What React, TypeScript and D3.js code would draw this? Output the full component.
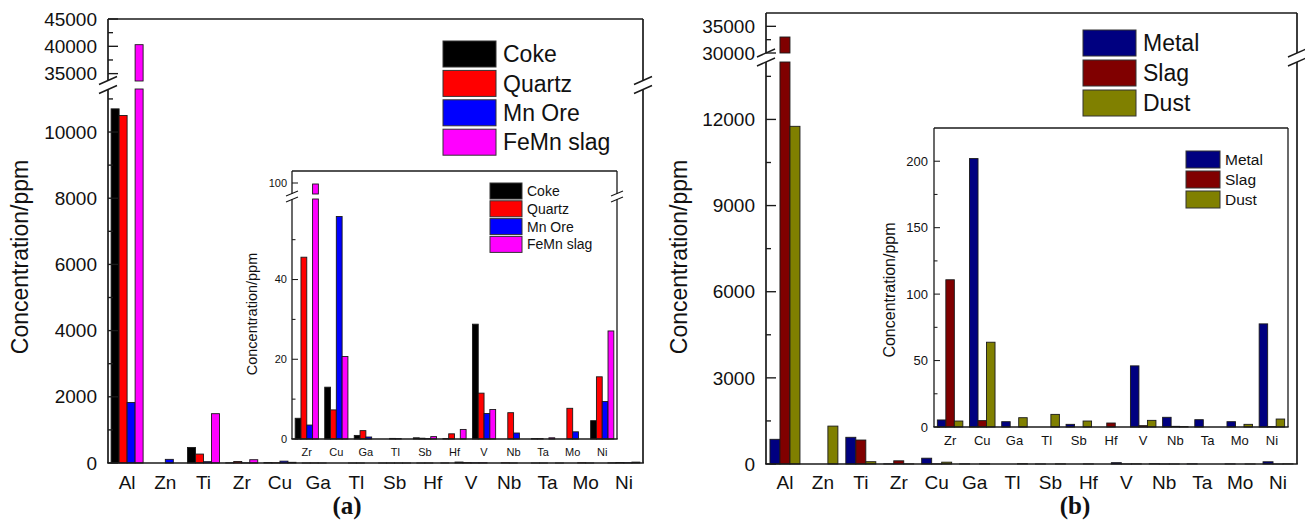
import React from 'react';
import * as d3 from 'd3';

const FONT = "'Liberation Sans', Arial, Helvetica, sans-serif";

// categories
const elements = ['Al', 'Zn', 'Ti', 'Zr', 'Cu', 'Ga', 'Tl', 'Sb', 'Hf', 'V', 'Nb', 'Ta', 'Mo', 'Ni'];
const insetElements = ['Zr', 'Cu', 'Ga', 'Tl', 'Sb', 'Hf', 'V', 'Nb', 'Ta', 'Mo', 'Ni'];

// (a) raw materials, ppm (same order as elements)
const coke = [10700, 0, 470, 5.2, 13, 0.9, 0, 0.3, 0.1, 28.8, 0, 0.1, 0, 4.6];
const quartz = [10500, 0, 270, 45.6, 7.3, 2.1, 0.15, 0.2, 1.3, 11.5, 6.6, 0.1, 7.7, 15.6];
const mnOre = [1830, 110, 40, 3.5, 55.8, 0.5, 0.1, 0.1, 0, 6.4, 1.5, 0, 1.8, 9.4];
const femnSlag = [40300, 0, 1490, 99.5, 20.7, 0, 0, 0.6, 2.4, 7.4, 0, 0.3, 0, 27.1];

// (b) products, ppm
const metal = [860, 0, 930, 5.3, 202, 4, 0, 2, 0, 46, 7.3, 5.5, 4, 77.6];
const slag = [33000, 0, 835, 110.8, 4.8, 0, 0, 0, 3, 1, 0.5, 0, 0, 0.3];
const dust = [11760, 1320, 80, 4.5, 63.8, 7, 9.5, 4.5, 0, 5, 0.3, 0, 2, 6];

// tick values
const aLowerMajor = [0, 2000, 4000, 6000, 8000, 10000];
const aLowerMinor = [1000, 3000, 5000, 7000, 9000, 11000];
const aUpperMajor = [35000, 40000, 45000];
const aUpperMinor = [37500, 42500];
const aInsetLowerMajor = [0, 20, 40];
const aInsetLowerMinor = [10, 30, 50];
const aInsetUpperMajor = [100];
const bLowerMajor = [0, 3000, 6000, 9000, 12000];
const bLowerMinor = [1500, 4500, 7500, 10500, 13500];
const bUpperMajor = [30000, 35000];
const bUpperMinor = [32500];
const bInsetMajor = [0, 50, 100, 150, 200];
const bInsetMinor = [25, 75, 125, 175];

type Series = { name: string; color: string; values: number[] };

const seriesA: Series[] = [
  { name: 'Coke', color: '#000000', values: coke },
  { name: 'Quartz', color: '#ff0000', values: quartz },
  { name: 'Mn Ore', color: '#0000ff', values: mnOre },
  { name: 'FeMn slag', color: '#ff00ff', values: femnSlag },
];
const seriesB: Series[] = [
  { name: 'Metal', color: '#000080', values: metal },
  { name: 'Slag', color: '#800000', values: slag },
  { name: 'Dust', color: '#808000', values: dust },
];
const sliceInset = (s: Series[]) => s.map((d) => ({ ...d, values: d.values.slice(3) }));

type PanelProps = {
  id: string;
  left: number; right: number; top: number; bottom: number;
  cats: string[]; series: Series[]; barW: number;
  lower: [number, number]; lowerTop: number;
  upper?: [number, number]; upperBottom?: number;
  lowerMajor: number[]; lowerMinor: number[];
  upperMajor?: number[]; upperMinor?: number[];
  tickFont: number; catFont: number; catBaseline: number;
  majorLen: number; minorLen: number; labelGap: number;
  frameW: number; breakDx: number; breakDy: number; breakSep: number;
  bg?: boolean;
  title: string; titleX: number; titleY: number; titleFont: number;
  legend: { x: number; y: number; w: number; h: number; step: number; font: number; textX: number };
};

function Panel(p: PanelProps) {
  const x = d3.scaleBand<string>().domain(p.cats).range([p.left, p.right]).padding(0);
  const gw = x.bandwidth();
  const k = p.series.length;
  const yL = d3.scaleLinear().domain(p.lower).range([p.bottom, p.lowerTop]);
  const yU = p.upper ? d3.scaleLinear().domain(p.upper).range([p.upperBottom as number, p.top]) : null;
  const stroke = '#1a1a1a';
  const bars: React.ReactNode[] = [];
  p.series.forEach((s, si) =>
    s.values.forEach((v, ci) => {
      if (!(v > 0)) return;
      const bx = (x(p.cats[ci]) as number) + (gw - k * p.barW) / 2 + si * p.barW;
      const common = { fill: s.color, stroke, strokeWidth: 0.9 };
      if (!yU || v <= p.lower[1]) {
        bars.push(<rect key={`${si}-${ci}`} x={bx} y={yL(v)} width={p.barW} height={p.bottom - yL(v)} {...common} />);
      } else {
        bars.push(<rect key={`${si}-${ci}l`} x={bx} y={p.lowerTop} width={p.barW} height={p.bottom - p.lowerTop} {...common} />);
        bars.push(<rect key={`${si}-${ci}u`} x={bx} y={yU(v)} width={p.barW} height={(p.upperBottom as number) - yU(v)} {...common} />);
      }
    })
  );
  const axisColor = '#1a1a1a';
  const yTopLower = yU ? p.lowerTop : p.top;
  const ticks: React.ReactNode[] = [];
  const addTicks = (vals: number[], sc: (v: number) => number, len: number, label: boolean, key: string) => {
    vals.forEach((v) => {
      const yy = sc(v);
      ticks.push(<line key={`${key}t${v}`} x1={p.left} x2={p.left + len} y1={yy} y2={yy} stroke={axisColor} strokeWidth={p.frameW * 0.8} />);
      if (label)
        ticks.push(
          <text key={`${key}l${v}`} x={p.left - p.labelGap} y={yy} dy="0.35em" textAnchor="end" fontSize={p.tickFont} fontFamily={FONT} fill="#111">
            {v}
          </text>
        );
    });
  };
  addTicks(p.lowerMajor, yL, p.majorLen, true, 'lM');
  addTicks(p.lowerMinor, yL, p.minorLen, false, 'lm');
  if (yU) {
    addTicks(p.upperMajor || [], yU, p.majorLen, true, 'uM');
    addTicks(p.upperMinor || [], yU, p.minorLen, false, 'um');
  }
  const breaks: React.ReactNode[] = [];
  if (yU) {
    const yc = (p.lowerTop + (p.upperBottom as number)) / 2;
    [p.left, p.right].forEach((ax) => {
      [-1, 1].forEach((sgn) => {
        const cy = yc + (sgn * p.breakSep) / 2;
        breaks.push(
          <line key={`b${ax}${sgn}`} x1={ax - p.breakDx} y1={cy + p.breakDy} x2={ax + p.breakDx} y2={cy - p.breakDy} stroke={axisColor} strokeWidth={p.frameW * 0.85} />
        );
      });
    });
  }
  const lg = p.legend;
  return (
    <g>
      {p.bg && <rect x={p.left} y={p.top} width={p.right - p.left} height={p.bottom - p.top} fill="#fff" />}
      {bars}
      {/* frame */}
      <line x1={p.left} x2={p.right} y1={p.top} y2={p.top} stroke={axisColor} strokeWidth={p.frameW} />
      <line x1={p.left - p.frameW / 2} x2={p.right + p.frameW / 2} y1={p.bottom} y2={p.bottom} stroke={axisColor} strokeWidth={p.frameW} />
      {[p.left, p.right].map((ax) => (
        <g key={`ax${ax}`}>
          <line x1={ax} x2={ax} y1={p.bottom} y2={yTopLower} stroke={axisColor} strokeWidth={p.frameW} />
          {yU && <line x1={ax} x2={ax} y1={p.upperBottom} y2={p.top} stroke={axisColor} strokeWidth={p.frameW} />}
        </g>
      ))}
      {ticks}
      {breaks}
      {p.cats.map((c) => (
        <text key={`c${c}`} x={(x(c) as number) + gw / 2} y={p.catBaseline} textAnchor="middle" fontSize={p.catFont} fontFamily={FONT} fill="#111">
          {c}
        </text>
      ))}
      <text transform={`translate(${p.titleX},${p.titleY}) rotate(-90)`} textAnchor="middle" fontSize={p.titleFont} fontFamily={FONT} fill="#111">
        {p.title}
      </text>
      {p.series.map((s, i) => (
        <g key={`lg${s.name}`}>
          <rect x={lg.x} y={lg.y + i * lg.step} width={lg.w} height={lg.h} fill={s.color} stroke="#333" strokeWidth={1} />
          <text x={lg.textX} y={lg.y + i * lg.step + lg.h / 2} dy="0.36em" fontSize={lg.font} fontFamily={FONT} fill="#111">
            {s.name}
          </text>
        </g>
      ))}
    </g>
  );
}

export default function App() {
  const mainCommon = {
    tickFont: 19, catFont: 19, catBaseline: 489, majorLen: 10, minorLen: 5, labelGap: 11,
    frameW: 1.7, breakDx: 9, breakDy: 4, breakSep: 9, title: 'Concentration/ppm', titleFont: 23,
  };
  const insetCommon = { majorLen: 6, minorLen: 3.5, frameW: 1.3, breakDx: 6, breakDy: 2.5, breakSep: 6, bg: true, title: 'Concentration/ppm' };
  return (
    <svg width={1305} height={522} style={{ display: 'block', position: 'absolute', left: 0, top: 0, background: '#fff' }}>
      {/* (a) main */}
      <Panel
        id="a"
        left={108} right={643} top={19} bottom={463}
        cats={elements} series={seriesA} barW={8}
        lower={[0, 11300]} lowerTop={89}
        upper={[33650, 45000]} upperBottom={81}
        lowerMajor={aLowerMajor} lowerMinor={aLowerMinor}
        upperMajor={aUpperMajor} upperMinor={aUpperMinor}
        titleX={28} titleY={257}
        legend={{ x: 443, y: 41, w: 53, h: 26, step: 29.4, font: 23, textX: 503 }}
        {...mainCommon}
      />
      {/* (a) inset */}
      <Panel
        id="ai"
        left={292} right={617} top={171} bottom={439}
        cats={insetElements} series={sliceInset(seriesA)} barW={5.8}
        lower={[0, 60.2]} lowerTop={199}
        upper={[94.5, 106]} upperBottom={194}
        lowerMajor={aInsetLowerMajor} lowerMinor={aInsetLowerMinor}
        upperMajor={aInsetUpperMajor} upperMinor={[]}
        tickFont={11} catFont={11} catBaseline={456} labelGap={5}
        titleX={257} titleY={314} titleFont={14.5}
        legend={{ x: 490, y: 183, w: 32, h: 16, step: 17.8, font: 14, textX: 527 }}
        {...insetCommon}
      />
      {/* (b) main */}
      <Panel
        id="b"
        left={766} right={1297} top={13} bottom={464}
        cats={elements} series={seriesB} barW={10}
        lower={[0, 14000]} lowerTop={62}
        upper={[30000, 37500]} upperBottom={53}
        lowerMajor={bLowerMajor} lowerMinor={bLowerMinor}
        upperMajor={bUpperMajor} upperMinor={bUpperMinor}
        titleX={687} titleY={257}
        legend={{ x: 1083, y: 30, w: 53, h: 26, step: 30, font: 23, textX: 1143 }}
        {...mainCommon}
      />
      {/* (b) inset */}
      <Panel
        id="bi"
        left={934} right={1288} top={128} bottom={427}
        cats={insetElements} series={sliceInset(seriesB)} barW={8.5}
        lower={[0, 225]} lowerTop={128}
        lowerMajor={bInsetMajor} lowerMinor={bInsetMinor}
        tickFont={13} catFont={13} catBaseline={445} labelGap={6}
        titleX={895} titleY={290} titleFont={16}
        legend={{ x: 1186, y: 151, w: 34, h: 17, step: 20, font: 15.5, textX: 1225 }}
        {...insetCommon}
      />
      <text x={347} y={514} textAnchor="middle" fontSize={25} fontWeight="bold" fontFamily="'Liberation Serif', 'Times New Roman', serif" fill="#111">(a)</text>
      <text x={1075} y={514} textAnchor="middle" fontSize={25} fontWeight="bold" fontFamily="'Liberation Serif', 'Times New Roman', serif" fill="#111">(b)</text>
    </svg>
  );
}
